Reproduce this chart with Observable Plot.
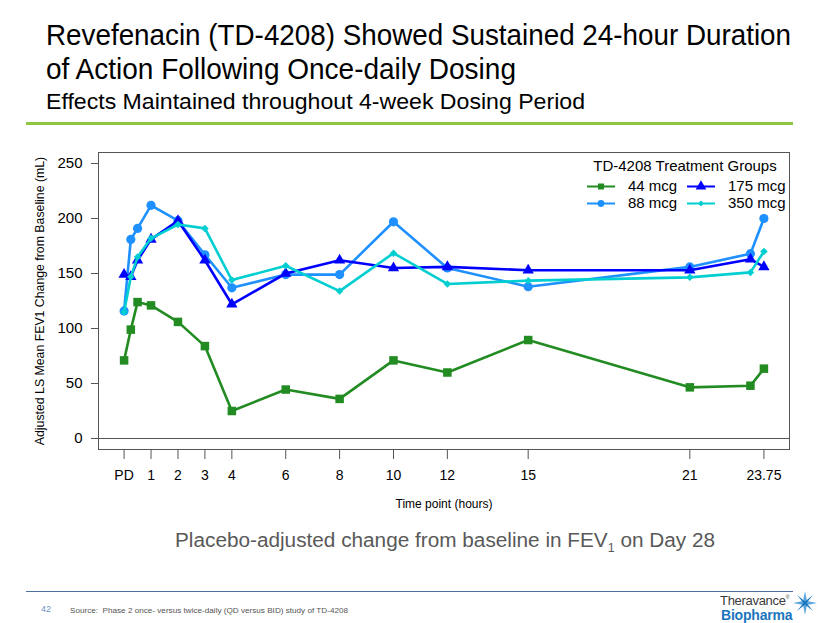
<!DOCTYPE html>
<html>
<head>
<meta charset="utf-8">
<script src="https://cdn.jsdelivr.net/npm/d3@7"></script>
<script src="https://cdn.jsdelivr.net/npm/@observablehq/plot@0.6"></script>
<style>
  html, body { margin: 0; padding: 0; background: #fff; }
  body { width: 830px; height: 623px; position: relative; overflow: hidden; font-family: "Liberation Sans", Arial, sans-serif; }
  .abs { position: absolute; white-space: nowrap; }
  .fit { display: inline-block; transform-origin: 0 50%; }
  #title1, #title2 { font-size: 29px; color: #000; }
  #subtitle { font-size: 22px; color: #000; }
  #greenline { left: 26px; top: 122px; width: 767px; height: 3px; background: #8DC63F; }
  #chart { position: absolute; left: 0; top: 140px; }
  #caption { font-size: 20px; color: #595959; }
  #footline { left: 26px; top: 591px; width: 767px; height: 1px; background: #4F6FA0; }
  #pagenum { font-size: 9px; color: #6F8FC0; }
  #source { font-size: 8px; color: #555; }
  .leg { font-family: "Liberation Sans", Arial, sans-serif; color: #000; }
  #logo { line-height: 13.5px; }
</style>
</head>
<body>
<div class="abs" style="left:46px; top:19px;"><span class="fit" id="title1">Revefenacin (TD-4208) Showed Sustained 24-hour Duration</span></div>
<div class="abs" style="left:46px; top:53px;"><span class="fit" id="title2">of Action Following Once-daily Dosing</span></div>
<div class="abs" style="left:46px; top:89px;"><span class="fit" id="subtitle">Effects Maintained throughout 4-week Dosing Period</span></div>
<div class="abs" id="greenline"></div>
<div id="chart"></div>
<div id="legend"></div>
<div class="abs" style="left:175px; top:529px;"><span class="fit" id="caption">Placebo-adjusted change from baseline in FEV<sub style="font-size:12px;">1</sub> on Day 28</span></div>
<div class="abs" id="footline"></div>
<div class="abs" style="left:41px; top:598px;"><span id="pagenum">42</span></div>
<div class="abs" style="left:70px; top:599px;"><span class="fit" id="source">Source:&nbsp; Phase 2 once- versus twice-daily (QD versus BID) study of TD-4208</span></div>
<div class="abs" id="logo" style="left:720px; top:591px;"><span style="font-size:13px; color:#3c3c3c; letter-spacing:-0.3px;">Theravance</span><span style="font-size:5px; color:#3c3c3c; vertical-align:6px;">®</span><br><span style="margin-left:1px; font-size:14px; font-weight:bold; color:#1B75BC; letter-spacing:-0.2px;">Biopharma</span></div>
<svg class="abs" style="left:792px; top:589px;" width="26" height="28" viewBox="-13 -14 26 28">
  <g>
    <path d="M0,-12 L2,-2 L12,0 L2,2 L0,12 L-2,2 L-12,0 L-2,-2 Z" fill="#5AA7DE"/>
    <path d="M-8,-8 L0,-1.5 L8,-8 L1.5,0 L8,8 L0,1.5 L-8,8 L-1.5,0 Z" fill="#1B75BC"/>
  </g>
</svg>
<script>
// ---- data ----
const times = [0, 0.25, 0.5, 1, 2, 3, 4, 6, 8, 10, 12, 15, 21, 23.25, 23.75];
const mcg44  = [71, 99, 124, 121, 106, 84, 25, 44.5, 36, 71, 60, 89.5, 46.5, 48, 63.5];
const mcg88  = [116, 181, 191, 212, 198, 167, 137, 149, 149, 197, 155, 138, 156, 168, 200];
const mcg175 = [149, 147, 162, 181, 198, 162, 122, 150, 162, 155, 156, 153, 153, 163, 156];
const mcg350 = [115, 147, 165, 182, 194.5, 191, 144, 157, 134, 168.5, 140.5, 143.5, 146.5, 151, 170];
const seriesNames = ["44 mcg", "88 mcg", "175 mcg", "350 mcg"];
const seriesValues = [mcg44, mcg88, mcg175, mcg350];
const seriesColors = ["#228B22", "#1E90FF", "#0000FF", "#00CED1"];
const seriesSymbols = ["square", "circle", "triangle", "diamond2"];
const seriesR = [4.8, 4.6, 4.2, 3.4];
const xTickValues = [0, 1, 2, 3, 4, 6, 8, 10, 12, 15, 21, 23.75];
const xTickLabels = ["PD", "1", "2", "3", "4", "6", "8", "10", "12", "15", "21", "23.75"];
const yTickValues = [0, 50, 100, 150, 200, 250];
const legendTitle = "TD-4208 Treatment Groups";

// ---- table for Plot ----
const rows = [];
seriesNames.forEach((name, i) => {
  times.forEach((t, j) => rows.push({group: name, idx: i, time: t, value: seriesValues[i][j]}));
});

const seriesMarks = [];
seriesNames.forEach((name, i) => {
  const d = rows.filter(r => r.idx === i);
  seriesMarks.push(Plot.line(d, {x: "time", y: "value", stroke: seriesColors[i], strokeWidth: 2.6}));
  seriesMarks.push(Plot.dot(d, {x: "time", y: "value", fill: seriesColors[i], symbol: seriesSymbols[i], r: seriesR[i], stroke: "none"}));
});

const chart = Plot.plot({
  width: 830,
  height: 380,
  marginTop: 12,
  marginBottom: 71,
  marginLeft: 98,
  marginRight: 41,
  style: {fontFamily: "Liberation Sans, Arial, sans-serif", color: "#000", background: "transparent", overflow: "visible"},
  x: {domain: [-0.95, 24.7]},
  y: {domain: [-10, 260]},
  marks: [
    Plot.ruleY([0], {stroke: "#555", strokeWidth: 1}),
    ...seriesMarks,
    Plot.frame({stroke: "#555", strokeWidth: 1}),
    Plot.axisX({ticks: xTickValues, tickFormat: d => xTickLabels[xTickValues.indexOf(d)], tickSize: 10, tickPadding: 11, fontSize: 14, stroke: "#555", label: null}),
    Plot.axisY({ticks: yTickValues, tickSize: 7, tickPadding: 9, fontSize: 15, stroke: "#555", label: null}),
    Plot.text(["Time point (hours)"], {frameAnchor: "bottom", dy: 58, fontSize: 12, fill: "#000"}),
    Plot.text(["Adjusted LS Mean FEV1 Change from Baseline (mL)"], {frameAnchor: "left", textAnchor: "middle", dx: -58, rotate: -90, fontSize: 12.3, fill: "#000"})
  ]
});
document.getElementById("chart").appendChild(chart);

// ---- legend (HTML overlay inside the plot frame) ----
const legend = document.getElementById("legend");
const lt = document.createElement("div");
lt.className = "abs leg";
lt.style.cssText = "left:585px; top:157px; width:200px; text-align:center; font-size:15px;";
lt.textContent = legendTitle;
legend.appendChild(lt);
const symbolPaths = {square: d3.symbolSquare, circle: d3.symbolCircle, triangle: d3.symbolTriangle, diamond2: d3.symbolDiamond2};
const legendSizes = [36, 36, 50, 22];
seriesNames.forEach((name, i) => {
  const col = Math.floor(i / 2), row = i % 2;
  const left = 587 + col * 100, top = 178 + row * 17;
  const sw = document.createElementNS("http://www.w3.org/2000/svg", "svg");
  sw.setAttribute("width", 30); sw.setAttribute("height", 16);
  sw.style.cssText = `position:absolute; left:${left}px; top:${top}px;`;
  const ln = document.createElementNS("http://www.w3.org/2000/svg", "line");
  ln.setAttribute("x1", 0); ln.setAttribute("x2", 28); ln.setAttribute("y1", 8.5); ln.setAttribute("y2", 8.5);
  ln.setAttribute("stroke", seriesColors[i]); ln.setAttribute("stroke-width", 2);
  sw.appendChild(ln);
  const p = document.createElementNS("http://www.w3.org/2000/svg", "path");
  p.setAttribute("d", d3.symbol(symbolPaths[seriesSymbols[i]], legendSizes[i])());
  p.setAttribute("transform", "translate(14,8.5)");
  p.setAttribute("fill", seriesColors[i]);
  sw.appendChild(p);
  legend.appendChild(sw);
  const tx = document.createElement("div");
  tx.className = "abs leg";
  tx.style.cssText = `left:${left + 41}px; top:${top - 1}px; font-size:15px;`;
  tx.textContent = name;
  legend.appendChild(tx);
});

// ---- fit slide texts to their widths in the reference ----
function fit(id, w) {
  const el = document.getElementById(id);
  const cur = el.getBoundingClientRect().width;
  if (cur > 0) el.style.transform = `scaleX(${w / cur})`;
}
fit("title1", 745);
fit("title2", 470);
fit("subtitle", 539);
fit("caption", 540);
fit("source", 278);
</script>
</body>
</html>
